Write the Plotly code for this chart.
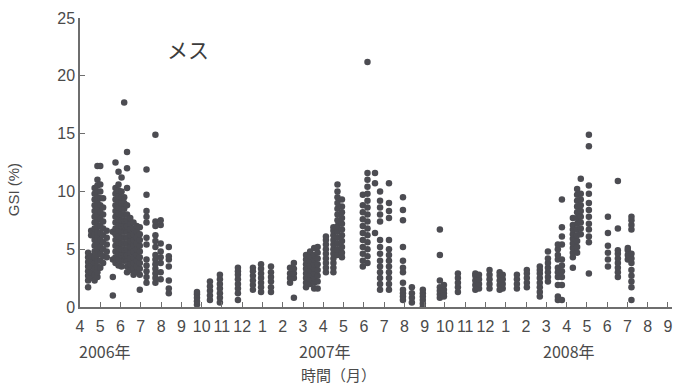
import plotly.graph_objects as go

# Sampling positions (months since April 2006; 0 = Apr 2006) and GSI values (%) per sample
sample_month = [
    0.40, 0.55, 0.72, 0.86, 1.00, 1.14, 1.32, 1.62, 1.75, 1.90, 2.05, 2.18, 2.32, 2.48, 2.64, 2.80, 2.95,
    3.28, 3.72, 3.98, 4.38,
    5.77, 6.41, 6.90, 7.79, 8.53, 8.93, 9.42, 10.36, 10.55,
    11.15, 11.35, 11.55, 11.72, 12.13, 12.50, 12.70, 12.92, 13.95, 14.18, 14.55, 14.80, 15.24, 15.93,
    16.37, 16.91,
    17.75, 17.95, 18.64, 19.50, 19.68, 20.20, 20.70, 20.85, 21.55, 22.04, 22.68,
    23.08, 23.57, 23.77, 24.31, 24.52, 24.70, 25.10, 26.04, 26.53, 27.02, 27.20,
]

gsi_values = [
    [1.7, 2.3, 2.7, 3.1, 3.5, 3.9, 4.3, 4.7],
    [2.5, 3.0, 3.5, 4.0, 4.4, 6.2, 6.6],
    [2.3, 2.8, 3.3, 3.8, 4.3, 4.8, 5.3, 5.8, 6.3, 6.8, 7.3, 7.8, 8.3, 8.8, 9.3, 9.8, 10.3],
    [2.6, 3.0, 3.5, 4.0, 4.5, 5.0, 5.5, 6.0, 6.5, 7.0, 7.5, 8.0, 8.5, 9.0, 9.5, 10.0, 10.5, 11.0, 12.2],
    [3.4, 4.0, 4.6, 5.2, 5.8, 6.4, 7.0, 7.6, 8.2, 8.8, 9.4, 10.0, 10.6, 12.2],
    [3.8, 4.4, 5.0, 5.6, 6.2, 6.8, 7.4, 8.0, 8.6, 9.4],
    [4.3, 4.8, 5.4, 6.0, 6.6],
    [1.0, 2.6, 4.1, 6.5],
    [3.8, 4.3, 4.8, 5.3, 5.8, 6.3, 6.8, 7.3, 7.8, 8.3, 8.8, 9.3, 9.8, 10.3, 12.5],
    [3.6, 4.1, 4.6, 5.1, 5.6, 6.1, 6.6, 7.1, 7.6, 8.1, 8.6, 9.1, 9.6, 10.1, 10.6, 11.7],
    [3.5, 4.0, 4.5, 5.0, 5.5, 6.0, 6.5, 7.0, 7.5, 8.0, 8.5, 9.0, 9.5, 10.0, 11.2],
    [4.0, 4.5, 5.0, 5.5, 6.0, 6.5, 7.0, 7.5, 8.0, 8.5, 9.0, 9.5, 17.7],
    [3.0, 3.5, 4.0, 4.5, 5.0, 5.5, 6.0, 6.5, 7.0, 7.5, 8.0, 8.8, 10.3, 12.0, 13.4],
    [3.2, 3.7, 4.2, 4.7, 5.2, 5.7, 6.2, 6.7, 7.2, 7.7],
    [2.8, 3.3, 3.8, 4.3, 4.8, 5.3, 5.8, 6.3, 6.8, 7.3],
    [3.0, 3.5, 4.0, 4.5, 5.0, 5.5, 6.0, 6.5, 7.0],
    [1.5, 2.8, 3.3, 3.8, 4.3, 4.8, 5.3, 5.8, 6.3, 6.9],
    [2.1, 2.6, 3.1, 3.6, 4.1, 5.4, 6.0, 7.3, 7.8, 8.3, 9.7, 11.9],
    [2.1, 2.5, 2.9, 3.3, 3.7, 4.1, 4.5, 5.2, 5.7, 6.2, 7.0, 7.4, 14.9],
    [2.4, 3.0, 3.8, 4.3, 4.8, 5.5, 7.1, 7.5],
    [1.2, 1.6, 2.3, 3.5, 4.1, 4.4, 5.2],
    [0.2, 0.5, 0.8, 1.1, 1.3],
    [0.6, 1.0, 1.4, 1.8, 2.2],
    [0.4, 0.8, 1.2, 1.6, 2.0, 2.4, 2.8],
    [0.6, 1.2, 1.6, 2.0, 2.4, 2.8, 3.1, 3.4],
    [1.5, 1.9, 2.3, 2.7, 3.1, 3.4],
    [1.3, 1.7, 2.1, 2.5, 2.9, 3.3, 3.7],
    [1.3, 1.7, 2.2, 2.6, 3.0, 3.5],
    [2.1, 2.5, 2.9, 3.4],
    [0.8, 2.5, 2.9, 3.3, 3.8],
    [1.7, 2.1, 2.5, 2.9, 3.3, 3.7, 4.1, 4.5],
    [2.0, 2.4, 2.8, 3.2, 3.6, 4.0, 4.4, 4.8],
    [1.6, 2.1, 2.5, 2.9, 3.3, 3.7, 4.1, 4.5, 5.1],
    [1.6, 2.2, 2.7, 3.2, 3.7, 4.2, 4.7, 5.2],
    [3.0, 3.4, 3.8, 4.2, 4.6, 5.0, 5.4, 5.8, 6.1],
    [3.0, 3.4, 3.8, 4.2, 4.6, 5.0, 5.4, 5.8, 6.2, 6.6, 6.9],
    [4.5, 5.0, 5.5, 6.0, 6.5, 7.0, 7.5, 8.0, 8.5, 9.0, 9.5, 10.0, 10.6],
    [4.3, 4.7, 5.2, 5.7, 6.2, 6.7, 7.2, 7.7, 8.2, 8.7, 9.3],
    [3.5, 4.0, 4.6, 5.2, 5.8, 6.4, 7.0, 7.6, 8.2, 8.8, 9.7],
    [3.8, 4.4, 5.0, 5.6, 6.2, 6.8, 7.4, 8.0, 8.6, 9.2, 9.8, 10.4, 11.0, 11.6, 21.2],
    [6.4, 10.7, 11.6],
    [1.5, 2.0, 2.5, 3.0, 3.5, 4.0, 4.6, 5.2, 5.8, 7.4, 8.0, 8.6, 9.2, 10.0],
    [1.5, 2.0, 2.5, 3.0, 3.5, 4.0, 4.5, 5.0, 5.8, 7.7, 8.3, 9.0, 10.7],
    [0.6, 0.9, 1.2, 1.5, 2.1, 3.0, 3.4, 4.0, 5.2, 7.5, 8.4, 9.5],
    [0.4, 0.8, 1.2, 1.7],
    [0.0, 0.3, 0.6, 0.9, 1.2, 1.5],
    [0.8, 1.1, 1.4, 1.7, 2.3, 4.5, 6.7],
    [0.9, 1.2, 1.5, 1.9],
    [1.3, 1.7, 2.1, 2.5, 2.9],
    [1.5, 1.9, 2.3, 2.7, 2.9],
    [1.6, 2.0, 2.4, 2.8],
    [1.6, 2.0, 2.4, 2.8, 3.2],
    [1.5, 1.9, 2.3, 2.7, 3.0],
    [1.6, 2.0, 2.4, 2.8],
    [1.6, 2.0, 2.4, 2.8],
    [1.7, 2.1, 2.5, 2.9, 3.2],
    [0.9, 1.3, 1.7, 2.1, 2.5, 2.9, 3.2, 3.5],
    [2.2, 2.6, 3.0, 3.4, 3.8, 4.2, 4.8],
    [0.6, 0.9, 1.9, 2.6, 3.0, 3.4, 4.1, 4.5, 5.0, 5.4],
    [0.6, 1.9, 2.6, 3.1, 3.6, 4.1, 5.4, 6.1, 6.9, 9.3],
    [3.4, 4.3, 4.7, 5.1, 5.5, 5.9, 6.3, 6.7, 7.1, 7.7],
    [4.7, 5.2, 5.7, 6.2, 6.7, 7.2, 7.7, 8.2, 8.7, 9.2, 9.7, 10.2],
    [6.3, 6.8, 7.3, 7.8, 8.3, 8.8, 9.3, 9.8, 11.1],
    [2.9, 5.6, 6.1, 6.7, 7.2, 7.8, 8.4, 9.0, 9.8, 10.5, 13.9, 14.9],
    [3.5, 4.1, 4.7, 5.3, 6.4, 7.8],
    [2.6, 3.0, 3.4, 3.8, 4.2, 4.6, 4.9, 6.8, 10.9],
    [4.1, 4.5, 4.9, 5.1],
    [0.6, 1.7, 2.2, 2.7, 3.2, 3.8, 4.2, 4.6, 6.7, 7.1, 7.5, 7.8],
]

month_labels = ["4", "5", "6", "7", "8", "9", "10", "11", "12",
                "1", "2", "3", "4", "5", "6", "7", "8", "9", "10", "11", "12",
                "1", "2", "3", "4", "5", "6", "7", "8", "9"]
year_labels = ["2006年", "2007年", "2008年"]
year_label_pos = [1.23, 12.1, 24.1]
y_ticks = [0, 5, 10, 15, 20, 25]

xs, ys = [], []
for m, vals in zip(sample_month, gsi_values):
    for v in vals:
        xs.append(m)
        ys.append(v)

TEXT = "#4a4a4a"
AXIS = "#6e6e6e"
FONT = "Liberation Sans, Arial, sans-serif"
JFONT = "Noto Sans CJK JP, sans-serif"

fig = go.Figure()
fig.add_trace(go.Scatter(
    x=xs, y=ys, mode="markers",
    marker=dict(size=6.5, color="#4c4c52", line=dict(width=0)),
    showlegend=False, hoverinfo="skip",
))

fig.update_layout(
    width=676, height=388,
    margin=dict(l=80, r=4, t=18, b=81),
    paper_bgcolor="white", plot_bgcolor="white",
    font=dict(family=FONT, color=TEXT, size=16),
    xaxis=dict(
        range=[0, 29.2], tickmode="array",
        tickvals=list(range(len(month_labels))), ticktext=month_labels,
        showgrid=False, zeroline=False, showline=True, linecolor=AXIS, linewidth=1.5,
        ticks="inside", ticklen=5, tickcolor=AXIS, tickwidth=1,
        tickfont=dict(size=16, color=TEXT, family=FONT),
        ticklabelstandoff=4,
    ),
    yaxis=dict(
        range=[0, 25], tickmode="array", tickvals=y_ticks,
        showgrid=False, zeroline=False, showline=True, linecolor=AXIS, linewidth=1.5,
        ticks="inside", ticklen=5, tickcolor=AXIS, tickwidth=1,
        tickfont=dict(size=16, color=TEXT, family=FONT),
    ),
)

for lab, pos in zip(year_labels, year_label_pos):
    fig.add_annotation(x=pos, y=-0.152, xref="x", yref="paper", text=lab,
                       showarrow=False, xanchor="center", yanchor="middle",
                       font=dict(size=16, color=TEXT, family=JFONT))

fig.add_annotation(x=0.436, y=-0.235, xref="paper", yref="paper", text="時間（月）",
                   showarrow=False, xanchor="center", yanchor="middle",
                   font=dict(size=15, color=TEXT, family=JFONT))
fig.add_annotation(x=-0.111, y=0.405, xref="paper", yref="paper", text="GSI (%)",
                   textangle=-90, showarrow=False, xanchor="center", yanchor="middle",
                   font=dict(size=15, color=TEXT, family=FONT))
fig.add_annotation(x=5.33, y=22.3, xref="x", yref="y", text="メス",
                   showarrow=False, xanchor="center", yanchor="middle",
                   font=dict(size=21, color="#3c3c3c", family=JFONT))

fig.write_html("out.html")
